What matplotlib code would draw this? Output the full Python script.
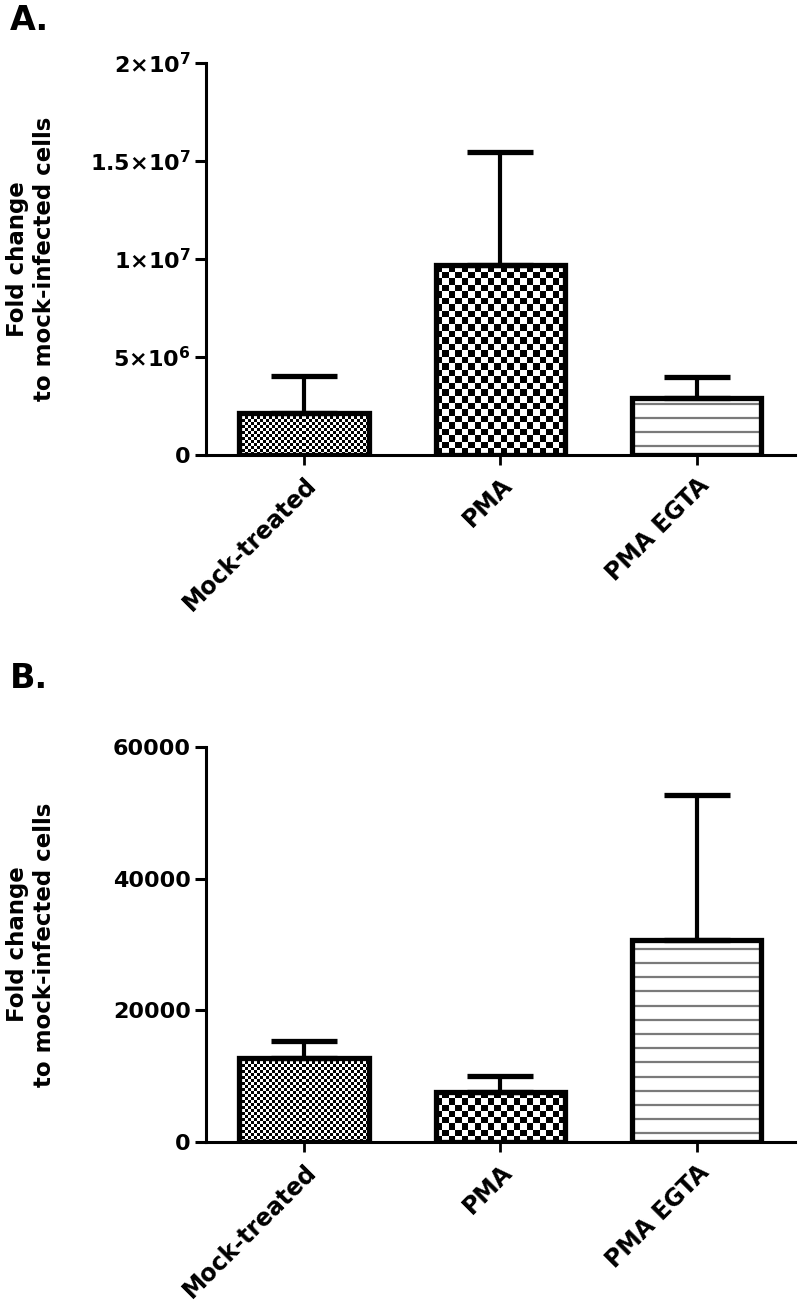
import numpy as np
import matplotlib
matplotlib.use("Agg")
import matplotlib.pyplot as plt

# data
categories = ["Mock-treated", "PMA", "PMA EGTA"]
a_means = [2.13e6, 9.68e6, 2.90e6]
a_err = [1.91e6, 5.78e6, 1.07e6]
b_means = [12740, 7580, 30680]
b_err = [2630, 2380, 21990]

a_ticks = [0, 5e6, 1e7, 1.5e7, 2e7]
a_ticklabels = ["0", r"5×10$^{6}$", r"1×10$^{7}$", r"1.5×10$^{7}$", r"2×10$^{7}$"]
b_ticks = [0, 20000, 40000, 60000]
b_ticklabels = ["0", "20000", "40000", "60000"]

plt.rcParams["font.family"] = ["DejaVu Sans"]
plt.rcParams["font.weight"] = "bold"
plt.rcParams["mathtext.fontset"] = "dejavusans"
plt.rcParams["mathtext.default"] = "bf"

fig = plt.figure(figsize=(8, 13.09), dpi=100)
ax_a = fig.add_axes([0.2575, 0.6524, 0.736, 0.2995])
ax_b = fig.add_axes([0.2575, 0.1276, 0.736, 0.3018])


def checker(ax, bar, cell_px):
    # checkerboard fill clipped to the bar
    x0, w, h = bar.get_x(), bar.get_width(), bar.get_height()
    p0 = ax.transData.transform((x0, 0))
    p1 = ax.transData.transform((x0 + w, h))
    nx = max(1, int(round((p1[0] - p0[0]) / cell_px)))
    ny = max(1, int(round((p1[1] - p0[1]) / cell_px)))
    grid = np.indices((ny, nx)).sum(axis=0) % 2
    im = ax.imshow(grid, cmap="gray", vmin=0, vmax=1, extent=(x0, x0 + w, 0, h),
                   origin="lower", interpolation="nearest", aspect="auto", zorder=2)
    im.set_clip_path(bar)


def stripes(ax, bar, step_px):
    # grey horizontal lines inside the bar
    x0, w, h = bar.get_x(), bar.get_width(), bar.get_height()
    px_per_unit = (ax.transData.transform((0, h))[1] - ax.transData.transform((0, 0))[1]) / h
    step = step_px / px_per_unit
    ys = np.arange(step * 0.6, h - step * 0.3, step)
    ax.hlines(ys, x0, x0 + w, colors="#7a7a7a", linewidth=1.6, zorder=2)


def panel(ax, means, err, ymax, ticks, ticklabels):
    x = np.arange(len(categories))
    ax.set_xlim(-0.5, 2.5)
    ax.set_ylim(0, ymax)

    bars = ax.bar(x, means, width=0.66, facecolor="white", edgecolor="black",
                  linewidth=3.8, zorder=3)
    for b in bars:
        b.set_facecolor("none")
    checker(ax, bars[0], 3.0)
    checker(ax, bars[1], 6.5)
    stripes(ax, bars[2], 14.2)
    ax.set_xlim(-0.5, 2.5)
    ax.set_ylim(0, ymax)

    ax.errorbar(x, means, yerr=[np.zeros(len(err)), err], fmt="none", ecolor="black",
                elinewidth=3.0, capsize=24, capthick=3.8, zorder=4)

    for s in ["top", "right"]:
        ax.spines[s].set_visible(False)
    for s in ["left", "bottom"]:
        ax.spines[s].set_linewidth(2.2)

    ax.set_yticks(ticks)
    ax.set_yticklabels(ticklabels)
    ax.set_xticks(x)
    ax.set_xticklabels(categories, rotation=45, ha="right", va="top",
                       rotation_mode="anchor")
    ax.tick_params(axis="y", direction="out", length=8, width=2.2, pad=3, labelsize=16)
    ax.tick_params(axis="x", direction="out", length=7, width=2.0, pad=6, labelsize=17)
    for lab in ax.get_xticklabels() + ax.get_yticklabels():
        lab.set_fontweight("bold")

    ax.set_ylabel("Fold change\nto mock-infected cells", fontsize=16.5, fontweight="bold")
    ax.yaxis.set_label_coords(-0.255, 0.5)


panel(ax_a, a_means, a_err, 2e7, a_ticks, a_ticklabels)
panel(ax_b, b_means, b_err, 60000, b_ticks, b_ticklabels)

fig.text(0.012, 1 - 30 / 1309, "A.", fontsize=24, fontweight="bold", va="baseline")
fig.text(0.012, 1 - 688 / 1309, "B.", fontsize=24, fontweight="bold", va="baseline")

fig.savefig("out.png", dpi=100)
